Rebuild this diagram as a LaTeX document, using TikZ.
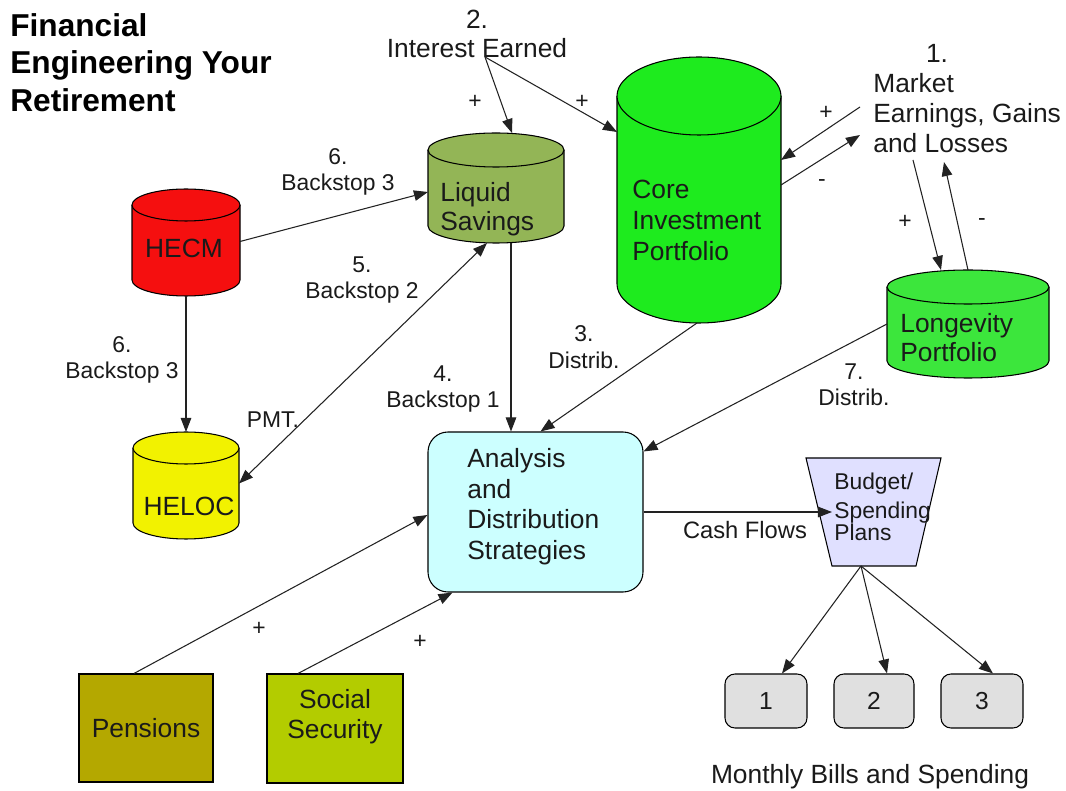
\documentclass[tikz,border=0pt]{standalone}
\usepackage{fontspec}
\setmainfont{Liberation Sans}
\usetikzlibrary{arrows.meta,calc}
\newdimen\px \px=0.2mm
\definecolor{hecmred}{HTML}{F50F0F}
\definecolor{helocyel}{HTML}{F2F200}
\definecolor{liquidgr}{HTML}{93B556}
\definecolor{coregr}{HTML}{1EEB1E}
\definecolor{longgr}{HTML}{3CE63C}
\definecolor{anacyan}{HTML}{CCFFFF}
\definecolor{budlav}{HTML}{E0E0FF}
\definecolor{billgray}{HTML}{E0E0E0}
\definecolor{pensol}{HTML}{B4A800}
\definecolor{socgr}{HTML}{B3CC00}
\definecolor{txt}{HTML}{1A1A1A}
\definecolor{linec}{HTML}{222222}
\tikzset{
  cyl/.style={draw=black, line width=0.6pt},
  box/.style={inner sep=0pt, outer sep=0pt},
  arr/.style={draw=linec, line width=0.6pt, -{Triangle[length=8pt,width=6pt]}},
  darr/.style={draw=linec, line width=0.6pt, {Triangle[length=8pt,width=6pt]}-{Triangle[length=8pt,width=6pt]}},
  tbig/.style={font=\fontsize{15}{17.5}\selectfont, text=txt, inner sep=0pt, align=left},
  tlbl/.style={font=\fontsize{13}{14.8}\selectfont, text=txt, inner sep=0pt, align=center},
  sign/.style={font=\fontsize{13}{14}\selectfont, text=txt, inner sep=0pt},
  flatbox/.style={draw=black, line width=0.6pt, inner sep=0pt},
}
\newcommand\drawcyl[6]{%
  \fill[#6] (#1-#4,#2+#5) -- (#1-#4,#3-#5) arc[start angle=180,end angle=360,x radius=#4\px,y radius=#5\px] -- (#1+#4,#2+#5) -- cycle;
  \draw[cyl] (#1-#4,#2+#5) -- (#1-#4,#3-#5) arc[start angle=180,end angle=360,x radius=#4\px,y radius=#5\px] -- (#1+#4,#2+#5);
  \filldraw[cyl, fill=#6] (#1,#2+#5) ellipse[x radius=#4\px, y radius=#5\px];
}
\begin{document}
\begin{tikzpicture}[x=0.2mm, y=-0.2mm]
\path[use as bounding box, fill=white] (0,0) rectangle (1066,791);

% title
\node[anchor=north west, inner sep=0pt, align=left, text=black,
      font=\fontsize{18}{21.3}\selectfont\bfseries] (title) at (10,13)
  {Financial\\Engineering Your\\Retirement};

% cylinders
\drawcyl{186}{189}{296}{54}{16}{hecmred}
\node[box, minimum width=108\px, minimum height=107\px] (hecm) at (186,242.5) {};
\node[tbig] (hecmtext) at (184,248) {HECM};

\drawcyl{186}{432}{539}{53}{16}{helocyel}
\node[box, minimum width=106\px, minimum height=107\px] (heloc) at (186,485.5) {};
\node[tbig] (heloctext) at (189,506) {HELOC};

\drawcyl{496}{133}{243}{68}{17}{liquidgr}
\node[box, minimum width=136\px, minimum height=110\px] (liquid) at (496,188) {};
\node[tbig, anchor=north west, font=\fontsize{15}{16.5}\selectfont] (liquidtext) at (440,182) {Liquid\\Savings};

\drawcyl{699}{57}{323}{82}{39}{coregr}
\node[box, minimum width=164\px, minimum height=266\px] (core) at (699,190) {};
\node[tbig, anchor=north west, font=\fontsize{15}{17.6}\selectfont] (coretext) at (632,180) {Core\\Investment\\Portfolio};

\drawcyl{968}{270}{378}{81}{17}{longgr}
\node[box, minimum width=162\px, minimum height=108\px] (longevity) at (968,324) {};
\node[tbig, anchor=north west, font=\fontsize{15}{16.5}\selectfont] (longtext) at (900,313) {Longevity\\Portfolio};

% analysis box
\node[flatbox, fill=anacyan, rounded corners=4mm, minimum width=215\px, minimum height=160\px] (analysis) at (535.5,512) {};
\node[tbig, anchor=north west] (anatext) at (467,448) {Analysis\\and\\Distribution\\Strategies};

% budget trapezoid
\node[box, minimum width=135\px, minimum height=108\px] (budget) at (873.5,512) {};
\filldraw[fill=budlav, draw=black, line width=0.6pt] (budget.north west) -- (budget.north east)
  -- ([xshift=-25\px]budget.south east) -- ([xshift=26\px]budget.south west) -- cycle;
\node[anchor=north west, inner sep=0pt, align=left, text=txt, font=\fontsize{13}{12.5}\selectfont] (budgettext) at (834,473)
  {Budget/\\[4pt]Spending\\Plans};

% bills
\node[flatbox, fill=billgray, rounded corners=2mm, minimum width=82\px, minimum height=54\px, font=\fontsize{14}{16}\selectfont, text=txt] (bill1) at (766,701) {1};
\node[flatbox, fill=billgray, rounded corners=2mm, minimum width=80\px, minimum height=54\px, font=\fontsize{14}{16}\selectfont, text=txt] (bill2) at (874,701) {2};
\node[flatbox, fill=billgray, rounded corners=2mm, minimum width=82\px, minimum height=54\px, font=\fontsize{14}{16}\selectfont, text=txt] (bill3) at (982,701) {3};
\node[anchor=base, inner sep=0pt, text=txt, font=\fontsize{15}{17}\selectfont] (monthly) at (870,784) {Monthly Bills and Spending};

% income boxes
\node[flatbox, fill=pensol, minimum width=134\px, minimum height=108\px, font=\fontsize{15}{17}\selectfont, text=txt] (pensions) at (146,728) {Pensions};
\node[flatbox, fill=socgr, minimum width=136\px, minimum height=109\px] (social) at (335,728.5) {};
\node[tbig, align=center, anchor=north, font=\fontsize{15}{17}\selectfont] (socialtext) at (335,689) {Social\\Security};

% labels
\node[tlbl, anchor=north, font=\fontsize{15}{16.5}\selectfont] (interest) at (477,10) {2.\\Interest Earned};
\coordinate (ie) at (485,57);
\node[tlbl, anchor=north, font=\fontsize{15}{17}\selectfont] (mnum) at (937,44) {1.};
\node[tbig, anchor=north west, font=\fontsize{15}{17}\selectfont] (market) at (873,73) {Market\\Earnings, Gains\\and Losses};
\coordinate (m1) at (860,107);
\coordinate (m2) at (860,135);
\coordinate (m3) at (913,160);
\coordinate (m4) at (944,162);

\node[tlbl, anchor=north] (bs3a) at (338,148) {6.\\Backstop 3};
\node[tlbl, anchor=north] (bs2) at (362,256) {5.\\Backstop 2};
\node[tlbl, anchor=north] (bs3b) at (122,336) {6.\\Backstop 3};
\node[tlbl] (pmt) at (273,420) {PMT.};
\node[tlbl, anchor=north] (bs1) at (443,365) {4.\\Backstop 1};
\node[tlbl, anchor=north, font=\fontsize{13}{15.5}\selectfont] (dist3) at (584,325) {3.\\Distrib.};
\node[tlbl, anchor=north] (dist7) at (854,363) {7.\\Distrib.};
\node[tlbl, font=\fontsize{13.5}{15}\selectfont] (cash) at (745,530.5) {Cash Flows};

% signs
\node[sign] (p1) at (475,102) {+};
\node[sign] (p2) at (582,102) {+};
\node[sign] (p3) at (826,113) {+};
\node[sign] (n1) at (822,183) {-};
\node[sign] (p4) at (905,222) {+};
\node[sign] (n2) at (982,222) {-};
\node[sign] (p5) at (259,629) {+};
\node[sign] (p6) at (420,642) {+};

% connectors
\draw[arr] (ie) -- ([xshift=16\px]liquid.north);
\draw[arr] (ie) -- ([yshift=58\px]core.west);
\draw[arr] (m1) -- ([yshift=30\px]core.east);
\draw[arr] ([yshift=5\px]core.east) -- (m2);
\draw[arr] (m3) -- ([xshift=-27\px]longevity.north);
\draw[arr] (longevity.north) -- (m4);
\draw[arr] ([yshift=1\px]hecm.east) -- ([yshift=-4\px]liquid.west);
\draw[darr] ([xshift=-9\px]liquid.south) -- ([yshift=2\px]heloc.east);
\draw[arr] (hecm.south) -- (heloc.north);
\draw[arr] ([xshift=15\px]liquid.south) -- ([xshift=-24.5\px]analysis.north);
\draw[arr] ([xshift=-2\px]core.south) -- ([xshift=5\px]analysis.north);
\draw[arr] (longevity.west) -- ([yshift=-20\px]analysis.north east);
\draw[arr] (analysis.east) -- ([xshift=26\px]budget.west);
\draw[arr] ([xshift=-12\px]pensions.north) -- ([yshift=-3\px]analysis.west);
\draw[arr] ([xshift=-37\px]social.north) -- ([xshift=25\px]analysis.south west);
\draw[arr] ([xshift=-12.5\px]budget.south) -- ([xshift=16\px]bill1.north);
\draw[arr] ([xshift=-12.5\px]budget.south) -- ([xshift=13\px]bill2.north);
\draw[arr] ([xshift=-12.5\px]budget.south) -- ([xshift=11\px]bill3.north);
\end{tikzpicture}
\end{document}
